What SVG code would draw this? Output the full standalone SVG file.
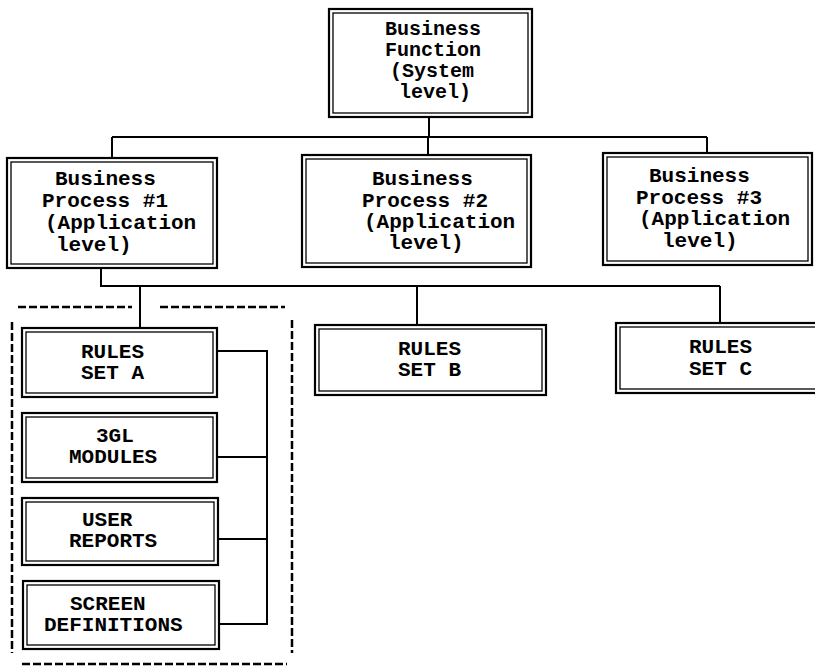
<svg xmlns="http://www.w3.org/2000/svg" width="815" height="666" viewBox="0 0 815 666">
<style>
.o{fill:#fff;stroke:#000;stroke-width:2.2}
.i{fill:none;stroke:#000;stroke-width:1.3}
.t{font-family:"Liberation Mono","Courier New",monospace;font-weight:bold;font-size:21px;fill:#000}
.s{font-size:20px}
.c{fill:none;stroke:#000;stroke-width:2}
.d{fill:none;stroke:#000;stroke-width:2.5;stroke-dasharray:8 3}
</style>
<rect width="815" height="666" fill="#fff"/>
<g id="connectors">
<path class="c" d="M429 117V137M112 137H707M112 137V158M428 137V155M707 137V153"/>
<path class="c" d="M101 268V286H720M140 286V328M417 286V325M720 286V323"/>
<path class="c" d="M217 351H267V624H219M217 457H267M218 539H267"/>
</g>
<g id="group-boundary">
<path class="d" d="M18 307H132M160 307H285M22 664H287"/>
<path class="d" d="M12 322V653M292 320V653" stroke-dasharray="6 3"/>
</g>
<g id="business-function">
<rect class="o" x="329" y="9" width="203" height="108"/><rect class="i" x="333" y="13" width="195" height="100"/>
<text class="t s" x="385" y="35">Business</text><text class="t s" x="385" y="56">Function</text><text class="t s" x="390" y="77">(System</text><text class="t s" x="399" y="98">level)</text>
</g>
<g id="bp1">
<rect class="o" x="7" y="158" width="210" height="110"/><rect class="i" x="11" y="162" width="202" height="102"/>
<text class="t" x="55" y="185">Business</text><text class="t" x="42" y="207">Process #1</text><text class="t" x="45" y="229">(Application</text><text class="t" x="56" y="251">level)</text>
</g>
<g id="bp2">
<rect class="o" x="302" y="155" width="229" height="112"/><rect class="i" x="306" y="159" width="221" height="104"/>
<text class="t" x="372" y="185">Business</text><text class="t" x="362" y="207">Process #2</text><text class="t" x="364" y="228">(Application</text><text class="t" x="388" y="249">level)</text>
</g>
<g id="bp3">
<rect class="o" x="603" y="153" width="209" height="112"/><rect class="i" x="607" y="157" width="201" height="104"/>
<text class="t" x="649" y="182">Business</text><text class="t" x="636" y="204">Process #3</text><text class="t" x="639" y="225">(Application</text><text class="t" x="662" y="247">level)</text>
</g>
<g id="rules-a">
<rect class="o" x="22" y="328" width="195" height="69"/><rect class="i" x="26" y="332" width="187" height="61"/>
<text class="t" x="81" y="358">RULES</text><text class="t" x="81" y="379">SET A</text>
</g>
<g id="modules-3gl">
<rect class="o" x="22" y="413" width="195" height="69"/><rect class="i" x="26" y="417" width="187" height="61"/>
<text class="t" x="96" y="442">3GL</text><text class="t" x="69" y="463">MODULES</text>
</g>
<g id="user-reports">
<rect class="o" x="22" y="498" width="196" height="67"/><rect class="i" x="26" y="502" width="188" height="59"/>
<text class="t" x="82" y="526">USER</text><text class="t" x="69" y="547">REPORTS</text>
</g>
<g id="screen-definitions">
<rect class="o" x="23" y="581" width="196" height="68"/><rect class="i" x="27" y="585" width="188" height="60"/>
<text class="t" x="70" y="610">SCREEN</text><text class="t" x="44" y="631">DEFINITIONS</text>
</g>
<g id="rules-b">
<rect class="o" x="315" y="325" width="231" height="70"/><rect class="i" x="319" y="329" width="223" height="62"/>
<text class="t" x="398" y="355">RULES</text><text class="t" x="398" y="376">SET B</text>
</g>
<g id="rules-c">
<rect class="o" x="616" y="323" width="210" height="70"/><rect class="i" x="620" y="327" width="202" height="62"/>
<text class="t" x="689" y="353">RULES</text><text class="t" x="689" y="375">SET C</text>
</g>
</svg>
